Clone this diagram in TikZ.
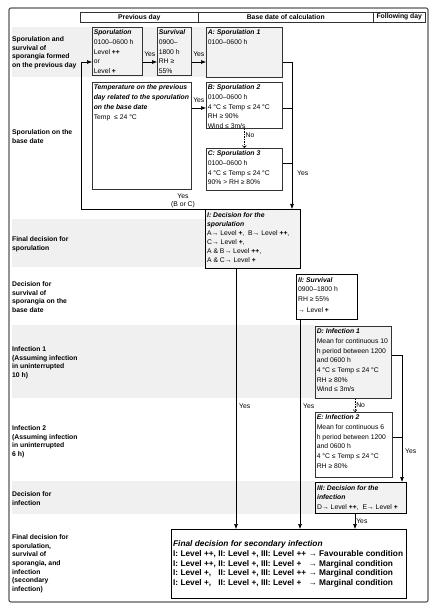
\documentclass[tikz,border=0pt]{standalone}
\usepackage{fontspec}
\setmainfont{Liberation Sans}
\usepackage{tikz}
\usetikzlibrary{arrows.meta}
\definecolor{bandgray}{RGB}{240,240,240}
\definecolor{boxgray}{RGB}{242,242,242}
\newcommand{\bt}[3]{\parbox[t][#2][t]{#1}{\raggedright #3}}
\newcommand{\bi}[1]{\textbf{\textit{#1}}}

\begin{document}
\begin{tikzpicture}[x=1pt,y=-1pt,
    bx/.style={rectangle,draw=black!80,line width=.6pt,anchor=north west,inner xsep=1.5pt,inner ysep=2.5pt,fill=white,font=\fontsize{6.8}{9.7}\selectfont},
    gbx/.style={bx,fill=boxgray},
    tbx/.style={line width=1.3pt,draw=black},
    lbl/.style={anchor=north west,inner sep=0pt,align=left,font=\bfseries\fontsize{6.8}{8.6}\selectfont},
    yes/.style={inner sep=1pt,align=center,font=\fontsize{6.8}{8.5}\selectfont},
    hd/.style={rectangle,draw=black!80,line width=.5pt,anchor=north west,inner sep=0pt,minimum height=10pt,font=\bfseries\fontsize{6.8}{8}\selectfont},
    arr/.style={-{Latex[length=5pt,width=4pt]},line width=.6pt},
    darr/.style={-{Straight Barb[length=2pt,width=4pt]},line width=.6pt,dash pattern=on 1.5pt off 1pt}]
    \useasboundingbox (0,0) rectangle (435,609);

    % row bands
    \fill[bandgray] (12,27) rectangle (282,77);
    \fill[bandgray] (12,219) rectangle (205,267);
    \fill[bandgray] (12,325) rectangle (315,398);
    \fill[bandgray] (12,481) rectangle (315,514);

    % outer frame
    \draw[black!65,line width=1.2pt,rounded corners=2pt] (9,8) rectangle (428,602);

    % header
    \node[hd,minimum width=118pt] (hdprev) at (80,12) {Previous day};
    \node[hd,minimum width=175pt] (hdbase) at (198,12) {Base date of calculation};
    \node[hd,minimum width=52pt] (hdfoll) at (373,12) {Following day};

    % row labels
    \node[lbl] (lbspor) at (12,36.5) {Sporulation and\\survival of\\sporangia formed\\on the previous day};
    \node[lbl] (lbbase) at (12,129.5) {Sporulation on the\\base date};
    \node[lbl] (lbdecI) at (12,236.5) {Final decision for\\sporulation};
    \node[lbl] (lbsurv) at (12,281.5) {Decision for\\survival of\\sporangia on the\\base date};
    \node[lbl] (lbinfA) at (12,346.5) {Infection 1\\(Assuming infection\\in uninterrupted\\10 h)};
    \node[lbl] (lbinfB) at (12,425.5) {Infection 2\\(Assuming infection\\in uninterrupted\\6 h)};
    \node[lbl] (lbdecIII) at (12,491.5) {Decision for\\infection};
    \node[lbl] (lbfin) at (12,534.5) {Final decision for\\sporulation,\\survival of\\sporangia, and\\infection\\(secondary\\infection)};

    % individual modules
    \node[gbx] (spor) at (92,27) {\bt{47pt}{43pt}{\bi{Sporulation}\\0100–0600 h\\Level \textbf{++}\\or\\Level \textbf{+}}};
    \node[gbx] (surv) at (157,27) {\bt{31pt}{43pt}{\bi{Survival}\\0900–\\1800 h\\RH ≥\\55\%}};
    \node[gbx] (boxA) at (206,27) {\bt{73pt}{45pt}{\bi{A: Sporulation 1}\\0100–0600 h}};
    \node[bx] (temp) at (92,82) {\bt{96pt}{102pt}{\bi{Temperature on the previous\\day related to the sporulation\\on the base date}\\[1pt]Temp\ \ ≤ 24 °C}};
    \node[bx] (boxB) at (206,82) {\bt{73pt}{41pt}{\bi{B: Sporulation 2}\\0100–0600 h\\4 °C ≤ Temp ≤ 24 °C\\RH ≥ 90\%\\Wind ≤ 3m/s}};
    \node[bx] (boxC) at (206,148) {\bt{73pt}{37pt}{\bi{C: Sporulation 3}\\0100–0600 h\\4 °C ≤ Temp ≤ 24 °C\\90\% > RH ≥ 80\%}};
    \node[gbx,tbx] (boxI) at (205,209) {\bt{92pt}{54pt}{\fontsize{6.8}{9.1}\selectfont\bi{I: Decision for the\\sporulation}\\A→ Level \textbf{+},\ \ B→ Level \textbf{++},\\C→ Level \textbf{+},\\A \& B→ Level \textbf{++},\\A \& C→ Level \textbf{+}}};
    \node[bx,tbx] (boxII) at (296,274) {\bt{58pt}{40pt}{\bi{II: Survival}\\0900–1800 h\\RH ≥ 55\%\\[1pt]→ Level \textbf{+}}};
    \node[gbx] (boxD) at (315,326) {\bt{73pt}{67pt}{\bi{D: Infection 1}\\Mean for continuous 10\\h period between 1200\\and 0600 h\\4 °C ≤ Temp ≤ 24 °C\\RH ≥ 80\%\\Wind ≤ 3m/s}};
    \node[bx] (boxE) at (315,412) {\bt{74pt}{60pt}{\bi{E: Infection 2}\\Mean for continuous 6\\h period between 1200\\and 0600 h\\4 °C ≤ Temp ≤ 24 °C\\RH ≥ 80\%}};
    \node[gbx,tbx] (boxIII) at (315,482) {\bt{88pt}{26pt}{\bi{III: Decision for the\\infection}\\D→ Level \textbf{++},\ \ E→ Level \textbf{+}}};
    \node[bx,tbx,minimum height=69pt,inner ysep=0pt] (fin) at (171,529) {\parbox{232pt}{\fontsize{8.3}{9.6}\selectfont\bfseries
        \begin{tabular}{@{}l@{}l@{}l@{}}
        \multicolumn{3}{@{}l@{}}{\textit{Final decision for secondary infection}}\\
        I: Level ++,\ \ & II: Level +, III: Level ++\ \ & → Favourable condition\\
        I: Level ++,\ \ & II: Level +, III: Level + & → Marginal condition\\
        I: Level +, & II: Level +, III: Level ++ & → Marginal condition\\
        I: Level +, & II: Level +, III: Level + & → Marginal condition
        \end{tabular}}};

    % turning points
    \coordinate (r1) at (0,62);
    \coordinate (r2) at (0,108);
    \coordinate (r3) at (0,163);
    \coordinate (rD) at (0,355);
    \coordinate (rE) at (0,437);
    \coordinate (loopx) at (81,0);
    \coordinate (brk) at (292,0);
    \coordinate (cI) at (236,0);
    \coordinate (cII) at (300,0);
    \coordinate (cD) at (355,0);
    \coordinate (brkD) at (402,0);

    % previous day
    \draw[arr] (spor.east |- r1) -- (surv.west |- r1) node[yes,midway,above=4pt] (yesA) {Yes};
    \draw[arr] (surv.east |- r1) -- (boxA.west |- r1) node[yes,midway,above=4pt] (yesB) {Yes};
    \draw[arr] (temp.east |- r2) -- (boxB.west |- r2) node[yes,midway,above=4pt] (yesC) {Yes};

    % sporulation on the base date
    \draw[darr] (boxB.south) -- (boxC.north) node[yes,pos=.35,right] (noBC) {No};
    \draw[arr] (boxA.east |- r1) -| (brk |- boxI.north);
    \draw (boxB.east |- r2) -- (brk |- r2);
    \draw (boxC.east |- r3) -- (brk |- r3);
    \node[yes,anchor=west] (yesABC) at (296,173) {Yes};

    % back to the previous day
    \draw[arr] (boxI.north west) -| (loopx |- r1) -- (spor.west |- r1);
    \node[yes] (yesloop) at (183,201) {Yes\\(B or C)};

    % decisions to the final box
    \draw[arr] (cI |- boxI.south) -- (cI |- fin.north);
    \node[yes,anchor=west] (yesI) at (238,406) {Yes};
    \draw[arr] (cII |- boxII.south) -- (cII |- fin.north);
    \node[yes,anchor=west] (yesII) at (302,406) {Yes};

    % infection
    \draw[darr] (cD |- boxD.south) -- (cD |- boxE.north) node[yes,midway,right] (noDE) {No};
    \draw[arr] (boxD.east |- rD) -| (brkD |- boxIII.north);
    \draw (boxE.east |- rE) -- (brkD |- rE);
    \node[yes,anchor=west] (yesDE) at (404,451) {Yes};
    \draw[arr] (cD |- boxIII.south) -- (cD |- fin.north) node[yes,midway,right] (yesIII) {Yes};
\end{tikzpicture}
\end{document}
